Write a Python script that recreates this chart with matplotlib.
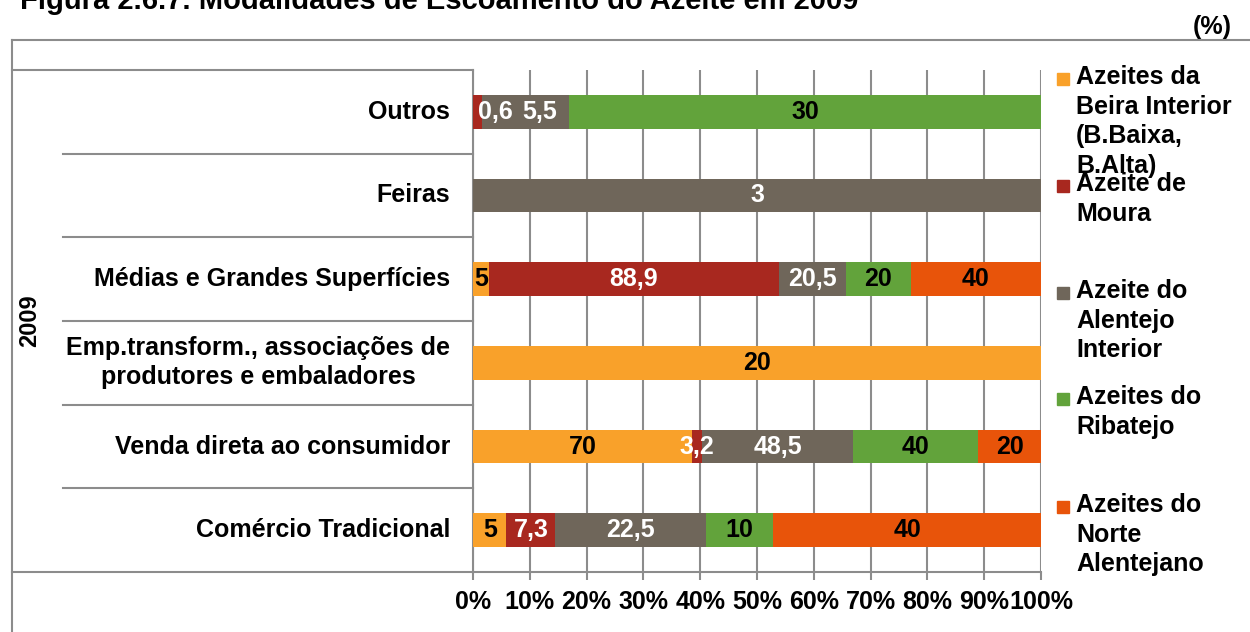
import matplotlib
matplotlib.use("Agg")
import matplotlib.pyplot as plt
from matplotlib.lines import Line2D
import numpy as np

plt.rcParams['font.family'] = ['Liberation Sans', 'DejaVu Sans']
plt.rcParams['font.weight'] = 'bold'

categories = ["Outros", "Feiras", "Médias e Grandes Superfícies",
              "Emp.transform., associações de\nprodutores e embaladores",
              "Venda direta ao consumidor", "Comércio Tradicional"]
series_names = ["Azeites da\nBeira Interior\n(B.Baixa,\nB.Alta)", "Azeite de\nMoura",
                "Azeite do\nAlentejo\nInterior", "Azeites do\nRibatejo",
                "Azeites do\nNorte\nAlentejano"]
beira = [0, 0, 5, 20, 70, 5]
moura = [0.6, 0, 88.9, 0, 3.2, 7.3]
alentejo = [5.5, 3, 20.5, 0, 48.5, 22.5]
ribatejo = [30, 0, 20, 0, 40, 10]
norte = [0, 0, 40, 0, 20, 40]
series = [beira, moura, alentejo, ribatejo, norte]
colors = ["#F9A12A", "#A8281F", "#6F665A", "#62A33B", "#E8540A"]
label_colors = ["black", "white", "white", "black", "black"]
xticks = [0, 10, 20, 30, 40, 50, 60, 70, 80, 90, 100]
group_label = "2009"
# manual label nudges (in % units) as in the original (series index, category index)
label_nudge = {(1, 0): 3.1, (2, 0): 2.5}

W, H = 1250, 632
fig = plt.figure(figsize=(W / 100, H / 100), dpi=100)
FS = 18
GRID = "#8C8C8C"

def fx(px):
    return px / W

def fy(py):
    return 1 - py / H

L, R, T, B = 473, 1041, 70, 572
ax = fig.add_axes([fx(L), fy(B), fx(R) - fx(L), fy(T) - fy(B)])

data = np.array(series, dtype=float)
totals = data.sum(axis=0)
pct = data / totals * 100
ypos = np.arange(len(categories))
left = np.zeros(len(categories))
for i in range(len(series)):
    ax.barh(ypos, pct[i], left=left, height=0.4, color=colors[i], zorder=3)
    for j in range(len(categories)):
        if data[i, j] > 0:
            txt = f"{data[i, j]:g}".replace(".", ",")
            cx = left[j] + pct[i, j] / 2 + label_nudge.get((i, j), 0)
            ax.text(cx, ypos[j], txt, ha="center", va="center", color=label_colors[i],
                    fontsize=FS, fontweight="bold", zorder=4)
    left = left + pct[i]

ax.set_xlim(0, 100)
ax.set_ylim(len(categories) - 0.5, -0.5)
ax.set_xticks(xticks)
ax.set_xticklabels([f"{v}%" for v in xticks], fontsize=FS, fontweight="bold")
ax.xaxis.grid(True, color=GRID, linewidth=1.5, zorder=0)
ax.set_axisbelow(True)
ax.tick_params(axis="x", length=6, width=1.5, color=GRID, pad=7)
ax.set_yticks([])
for s in ["top", "right"]:
    ax.spines[s].set_visible(False)
for s in ["left", "bottom"]:
    ax.spines[s].set_color(GRID)
    ax.spines[s].set_linewidth(1.5)

# category labels
for j, c in enumerate(categories):
    ax.text(-0.04, ypos[j], c, transform=ax.get_yaxis_transform(), ha="right", va="center",
            multialignment="center", fontsize=FS, fontweight="bold", linespacing=1.25)

# category separators
tr = ax.get_yaxis_transform()
x_sep = (63 - L) / (R - L)
x_outer = (12 - L) / (R - L)
for k in range(1, len(categories)):
    ax.plot([x_sep, 0], [k - 0.5, k - 0.5], transform=tr, color=GRID, lw=1.5, clip_on=False)
ax.plot([x_outer, 0], [-0.5, -0.5], transform=tr, color=GRID, lw=1.5, clip_on=False)
ax.plot([x_outer, 0], [len(categories) - 0.5, len(categories) - 0.5], transform=tr,
        color=GRID, lw=1.5, clip_on=False)

ax.text(fx(30), fy(321), group_label, transform=fig.transFigure, rotation=90,
        ha="center", va="center", fontsize=17, fontweight="bold")

# outer frame
fig.add_artist(Line2D([fx(12), 1], [fy(40), fy(40)], color=GRID, lw=1.5))
fig.add_artist(Line2D([fx(12), fx(12)], [fy(40), 0], color=GRID, lw=1.5))

# legend
leg_y = [79, 186, 293, 399, 507]
for i, name in enumerate(series_names):
    fig.patches.append(plt.Rectangle((fx(1057), fy(leg_y[i] + 6)), 12 / W, 12 / H,
                                     transform=fig.transFigure, color=colors[i]))
    fig.text(fx(1076), fy(leg_y[i] - 14), name, ha="left", va="top", fontsize=FS,
             fontweight="bold", linespacing=1.3)

fig.text(fx(1232), fy(27), "(%)", ha="right", va="center", fontsize=FS, fontweight="bold")
fig.text(fx(20), fy(9), "Figura 2.6.7. Modalidades de Escoamento do Azeite em 2009",
         ha="left", va="baseline", fontsize=21, fontweight="bold")

fig.savefig("out.png", dpi=100)
